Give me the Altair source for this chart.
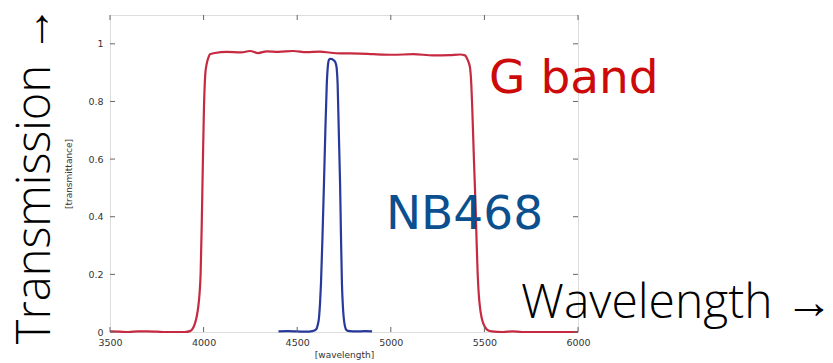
import altair as alt
import pandas as pd

# ---- data ----
g_wl = [3500, 3550, 3600, 3650, 3700, 3750, 3800, 3850, 3900, 3927, 3940, 3954, 3965,
        3972, 3978, 3984, 3990, 3995, 4002, 4009, 4015, 4020, 4027, 4034, 4060, 4123,
        4200, 4248, 4292, 4337, 4400, 4479, 4550, 4622, 4680, 4729, 4835, 4906, 5012,
        5120, 5226, 5316, 5370, 5396, 5410, 5423, 5430, 5435, 5444, 5453, 5459, 5464,
        5470, 5476, 5485, 5494, 5505, 5521, 5540, 5600, 5650, 5700, 5800, 5900, 6000]
g_tr = [0.002, 0.001, 0.0, 0.002, 0.002, 0.001, 0.0, 0.0, 0.0, 0.003, 0.01, 0.03, 0.06,
        0.09, 0.13, 0.2, 0.37, 0.55, 0.78, 0.895, 0.925, 0.94, 0.955, 0.964, 0.968, 0.972,
        0.970, 0.975, 0.968, 0.974, 0.972, 0.975, 0.971, 0.973, 0.969, 0.967, 0.966, 0.964, 0.962,
        0.964, 0.960, 0.961, 0.963, 0.960, 0.945, 0.918, 0.86, 0.78, 0.6, 0.434, 0.3, 0.204,
        0.13, 0.088, 0.05, 0.03, 0.015, 0.005, 0.002, 0.0, 0.002, 0.0, 0.0, 0.0, 0.0]

nb_wl = [4400, 4450, 4500, 4550, 4580, 4600, 4610, 4617, 4622, 4627, 4635, 4643, 4650,
         4658, 4665, 4670, 4677, 4685, 4692, 4700, 4706, 4711, 4716, 4722, 4729, 4734,
         4739, 4744, 4748, 4755, 4764, 4780, 4820, 4860, 4900]
nb_tr = [0.002, 0.003, 0.002, 0.001, 0.003, 0.008, 0.025, 0.053, 0.1, 0.168, 0.33, 0.515, 0.69,
         0.86, 0.93, 0.945, 0.948, 0.947, 0.944, 0.94, 0.932, 0.915, 0.86, 0.7, 0.515, 0.33,
         0.168, 0.09, 0.053, 0.02, 0.006, 0.003, 0.002, 0.003, 0.002]

x_ticks = [3500, 4000, 4500, 5000, 5500, 6000]
y_ticks = [0, 0.2, 0.4, 0.6, 0.8, 1.0]

band_names = ["G band", "NB468"]
band_colors = ["#c62a40", "#27399a"]

# annotation texts (label, wavelength, transmission)
ann_text = ["G band", "NB468", "Wavelength \u2192", "Transmission \u2192"]
ann_wl = [5525, 4974, 5696, 3180]
ann_tr = [0.831, 0.356, 0.048, 0.545]

W, H = 468, 317
FRAME = "#666666"

df = pd.DataFrame({
    "wl": g_wl + nb_wl,
    "tr": g_tr + nb_tr,
    "band": [band_names[0]] * len(g_wl) + [band_names[1]] * len(nb_wl),
})

xs = alt.Scale(domain=[3500, 6000], nice=False, zero=False)
ys = alt.Scale(domain=[0, 1.1], nice=False)

lab = dict(labelFont="DejaVu Sans", labelFontSize=9.5, labelColor="#333333",
           titleFont="DejaVu Sans", titleFontSize=9, titleColor="#333333",
           titleFontWeight="normal", ticks=False, domain=False, grid=False,
           labelFlush=False, labelOverlap=False)
x_axis = alt.Axis(values=x_ticks, format="d", title="[wavelength]",
                  labelPadding=5, titlePadding=4, **lab)
y_axis = alt.Axis(values=y_ticks, format="~g", title="[transmittance]",
                  labelPadding=7, titlePadding=14, **lab)

lines = alt.Chart(df).mark_line(strokeWidth=2.2, interpolate="monotone").encode(
    x=alt.X("wl:Q", scale=xs, axis=x_axis),
    y=alt.Y("tr:Q", scale=ys, axis=y_axis),
    color=alt.Color("band:N", scale=alt.Scale(domain=band_names, range=band_colors), legend=None),
)

xt = pd.DataFrame({"wl": x_ticks})
yt = pd.DataFrame({"tr": y_ticks})
tick_style = dict(color=FRAME, strokeWidth=1)
tb = alt.Chart(xt).mark_rule(**tick_style).encode(
    x=alt.X("wl:Q", scale=xs, axis=x_axis), y=alt.value(H), y2=alt.value(H - 5))
tt = alt.Chart(xt).mark_rule(**tick_style).encode(
    x=alt.X("wl:Q", scale=xs, axis=x_axis), y=alt.value(0), y2=alt.value(5))
tl = alt.Chart(yt).mark_rule(**tick_style).encode(
    y=alt.Y("tr:Q", scale=ys, axis=y_axis), x=alt.value(0), x2=alt.value(5))
tr_ = alt.Chart(yt).mark_rule(**tick_style).encode(
    y=alt.Y("tr:Q", scale=ys, axis=y_axis), x=alt.value(W), x2=alt.value(W - 5))


def ann(i, **style):
    d = pd.DataFrame({"wl": [ann_wl[i]], "tr": [ann_tr[i]], "t": [ann_text[i]]})
    return alt.Chart(d).mark_text(**style).encode(
        x=alt.X("wl:Q", scale=xs, axis=x_axis),
        y=alt.Y("tr:Q", scale=ys, axis=y_axis),
        text="t:N")


t_g = ann(0, font="DejaVu Sans", fontSize=47, color="#cc0a0a", align="left", baseline="alphabetic")
t_nb = ann(1, font="DejaVu Sans", fontSize=47, color="#0b4f8e", align="left", baseline="alphabetic")
t_wl = ann(2, font="Open Sans", fontWeight=300, fontSize=48, color="#000000", align="left", baseline="alphabetic")
t_tr = ann(3, font="Open Sans", fontWeight=300, fontSize=47, color="#000000", align="center",
           baseline="alphabetic", angle=270)

chart = alt.layer(lines, tb, tt, tl, tr_, t_g, t_nb, t_wl, t_tr).properties(
    width=W, height=H,
    padding={"left": 110, "top": 15, "right": 255, "bottom": 31},
    autosize=alt.AutoSizeParams(type="none"),
).configure_view(stroke=FRAME, strokeWidth=1.5).configure(background="white")

chart.save("out.html", embed_options={"renderer": "svg", "actions": False})
